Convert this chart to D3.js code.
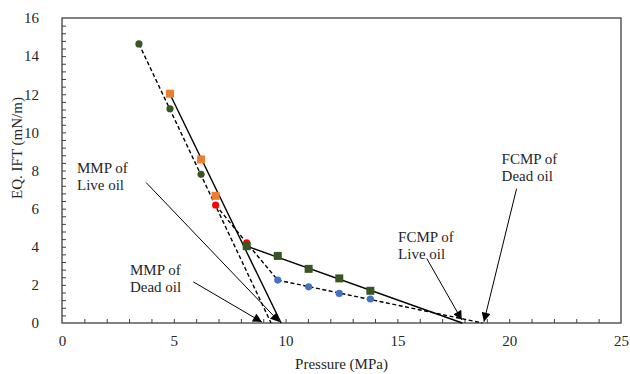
<!doctype html>
<html>
<head>
<style>
    body { margin: 0; background: #fff; }
    svg text { font-family: "Liberation Serif", "Times New Roman", Times, "DejaVu Serif", serif !important; fill: #262626; }
</style>
<script src="https://d3js.org/d3.v7.min.js"></script>
</head>
<body>
<div id="chart"></div>
<script>
    // [pressure MPa, IFT mN/m]
    var deadGreen = [[3.44, 14.64], [4.83, 11.24], [6.22, 7.8]];
    var deadRed = [[6.87, 6.19], [8.26, 4.2]];
    var deadBlue = [[9.65, 2.25], [11.03, 1.9], [12.4, 1.55], [13.79, 1.26]];
    var liveOrange = [[4.83, 12.03], [6.22, 8.58], [6.87, 6.67]];
    var liveGreen = [[8.26, 4.03], [9.65, 3.52], [11.03, 2.84], [12.4, 2.34], [13.79, 1.69]];

    // fitted lines, extrapolated down to the axis
    var liveLine1 = [[4.83, 12.0], [9.8, 0]];
    var liveLine2 = [[8.26, 4.03], [17.9, 0]];
    var deadLine1 = [[3.44, 14.64], [9.35, 0]];
    var deadLink = [[6.87, 6.19], [8.26, 4.2], [9.65, 2.25]];
    var deadLine2 = [[9.65, 2.25], [18.8, 0]];

    var xTicks = [0, 5, 10, 15, 20, 25];
    var yTicks = [0, 2, 4, 6, 8, 10, 12, 14, 16];

    // annotation labels: text lines, text anchor point, arrow from, arrow to
    var notes = [
        {lines: ["MMP of", "Live oil"], at: [0.67, 7.85], from: [3.76, 7.37], to: [9.73, 0.05]},
        {lines: ["MMP of", "Dead oil"], at: [3.04, 2.5], from: [5.87, 2.16], to: [8.94, 0.05]},
        {lines: ["FCMP of", "Live oil"], at: [15.03, 4.24], from: [16.31, 3.39], to: [17.88, 0.16]},
        {lines: ["FCMP of", "Dead oil"], at: [19.66, 8.36], from: [20.33, 7.05], to: [18.87, 0.07]}
    ];

    var serif = "'Liberation Serif', 'Times New Roman', Times, 'DejaVu Serif', serif";

    var margin = {top: 18, right: 9, bottom: 51, left: 62},
        width = 630 - margin.left - margin.right,
        height = 374 - margin.top - margin.bottom;

    var svg = d3.select("#chart").append("svg")
        .attr("width", 630).attr("height", 374)
        .style("font-family", serif)
      .append("g")
        .attr("transform", "translate(" + margin.left + "," + margin.top + ")");

    var x = d3.scaleLinear().domain([0, 25]).range([0, width]);
    var y = d3.scaleLinear().domain([0, 16]).range([height, 0]);

    // arrow head
    svg.append("defs").append("marker")
        .attr("id", "head")
        .attr("markerUnits", "userSpaceOnUse")
        .attr("viewBox", "0 0 10 10")
        .attr("refX", 10).attr("refY", 5)
        .attr("markerWidth", 10).attr("markerHeight", 9)
        .attr("orient", "auto")
      .append("path")
        .attr("d", "M0,0 L10,5 L0,10 Z")
        .attr("fill", "#000");

    // minor ticks (inside)
    svg.append("g")
        .attr("transform", "translate(0," + height + ")")
        .call(d3.axisBottom(x).tickValues(d3.range(1, 25)).tickSize(-4).tickFormat(""))
        .call(function(g) { g.select(".domain").remove(); g.selectAll("line").attr("stroke", "#404040"); });
    svg.append("g")
        .call(d3.axisLeft(y).tickValues(d3.range(1, 40).map(function(i) { return i * 0.4; })).tickSize(-4).tickFormat(""))
        .call(function(g) { g.select(".domain").remove(); g.selectAll("line").attr("stroke", "#404040"); });

    // axes with labels
    svg.append("g")
        .attr("transform", "translate(0," + height + ")")
        .call(d3.axisBottom(x).tickValues(xTicks).tickSize(0).tickPadding(12))
        .call(function(g) {
            g.attr("font-family", serif).attr("font-size", 15);
            g.select(".domain").remove();
            g.selectAll("text").style("font-family", serif).attr("fill", "#262626");
        });
    svg.append("g")
        .call(d3.axisLeft(y).tickValues(yTicks).tickSize(0).tickPadding(23))
        .call(function(g) {
            g.attr("font-family", serif).attr("font-size", 15);
            g.select(".domain").remove();
            g.selectAll("text").style("font-family", serif).attr("fill", "#262626");
        });

    // frame
    svg.append("rect")
        .attr("width", width).attr("height", height)
        .attr("fill", "none").attr("stroke", "#404040").attr("stroke-width", 1.3);

    var line = d3.line().x(function(d) { return x(d[0]); }).y(function(d) { return y(d[1]); });

    function drawLine(pts, dashed) {
        svg.append("path")
            .datum(pts)
            .attr("d", line)
            .attr("fill", "none")
            .attr("stroke", "#000")
            .attr("stroke-width", 1.4)
            .attr("stroke-dasharray", dashed ? "4,2.5" : null);
    }
    drawLine(liveLine1, false);
    drawLine(liveLine2, false);
    drawLine(deadLine1, true);
    drawLine(deadLink, true);
    drawLine(deadLine2, true);

    function drawCircles(pts, color) {
        svg.append("g").selectAll("circle")
            .data(pts).enter().append("circle")
            .attr("cx", function(d) { return x(d[0]); })
            .attr("cy", function(d) { return y(d[1]); })
            .attr("r", 3.6)
            .attr("fill", color);
    }
    function drawSquares(pts, color) {
        svg.append("g").selectAll("rect")
            .data(pts).enter().append("rect")
            .attr("x", function(d) { return x(d[0]) - 4; })
            .attr("y", function(d) { return y(d[1]) - 4; })
            .attr("width", 8).attr("height", 8)
            .attr("fill", color);
    }
    drawCircles(deadGreen, "#375623");
    drawSquares(liveOrange, "#ED7D31");
    drawCircles(deadRed, "#FF0000");
    drawSquares(liveGreen, "#375623");
    drawCircles(deadBlue, "#4472C4");

    // annotations
    notes.forEach(function(n) {
        svg.append("line")
            .attr("x1", x(n.from[0])).attr("y1", y(n.from[1]))
            .attr("x2", x(n.to[0])).attr("y2", y(n.to[1]))
            .attr("stroke", "#000").attr("stroke-width", 1)
            .attr("marker-end", "url(#head)");
        var t = svg.append("text")
            .attr("x", x(n.at[0])).attr("y", y(n.at[1]))
            .attr("font-size", 15);
        n.lines.forEach(function(s, i) {
            t.append("tspan").attr("x", x(n.at[0])).attr("dy", i ? 17 : 0).text(s);
        });
    });

    // axis titles
    svg.append("text")
        .attr("x", width / 2).attr("y", height + 46)
        .attr("text-anchor", "middle")
        .attr("font-size", 15)
        .text("Pressure (MPa)");
    svg.append("text")
        .attr("transform", "translate(" + (-40) + "," + 130 + ") rotate(-90)")
        .attr("text-anchor", "middle")
        .attr("font-size", 15)
        .text("EQ. IFT (mN/m)");
</script>
</body>
</html>
